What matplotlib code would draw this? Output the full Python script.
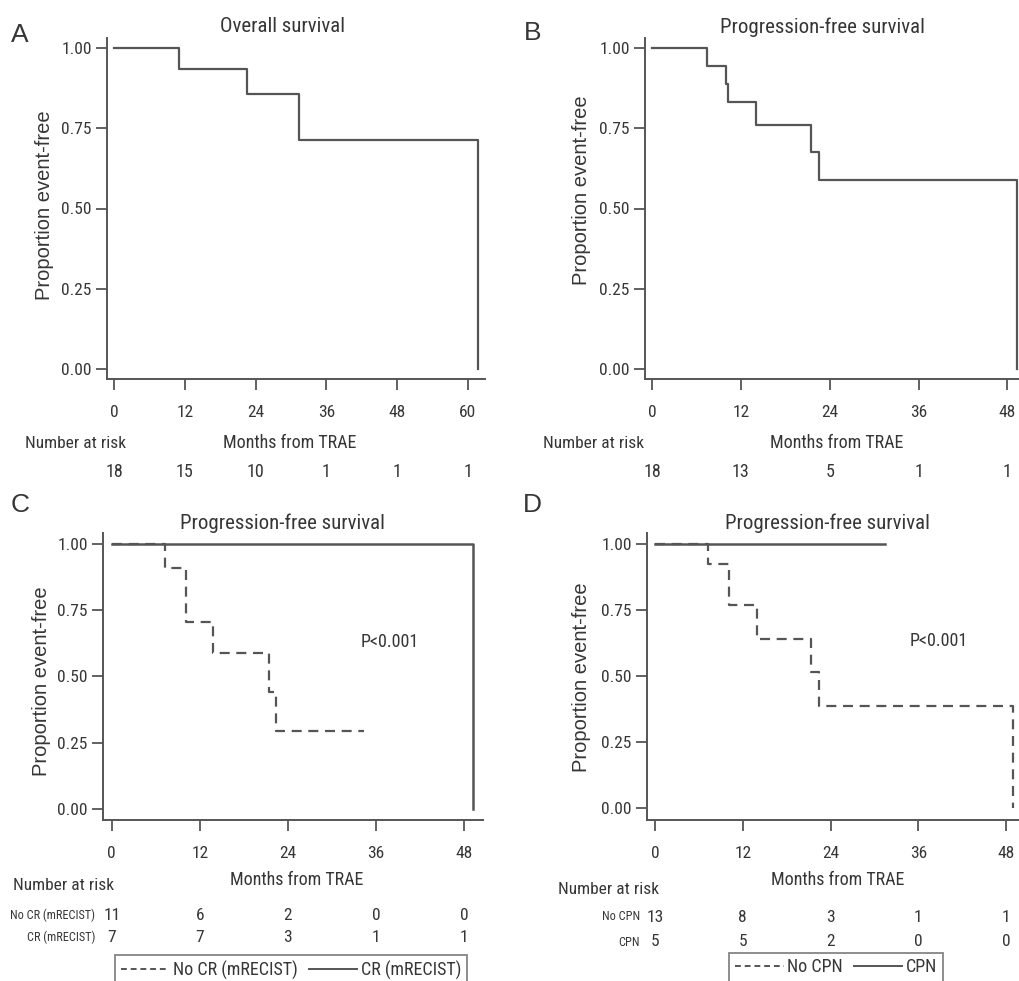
import matplotlib
matplotlib.use("Agg")
import matplotlib.pyplot as plt
import matplotlib.transforms as mtransforms
from matplotlib.lines import Line2D

# --- data ---
months_ticks_a = [0, 12, 24, 36, 48, 60]
months_ticks = [0, 12, 24, 36, 48]
surv_ticks = [0.0, 0.25, 0.5, 0.75, 1.0]

os_t = [0, 11.0, 22.5, 31.4, 61.7]
os_s = [1.0, 0.933, 0.857, 0.714, 0.0]
os_risk = [18, 15, 10, 1, 1, 1]

pfs_t = [0, 7.4, 10.0, 10.2, 14.0, 21.5, 22.5, 49.3]
pfs_s = [1.0, 0.944, 0.889, 0.833, 0.759, 0.675, 0.590, 0.0]
pfs_risk = [18, 13, 5, 1, 1]

nocr_t = [0, 7.2, 10.1, 13.8, 21.4, 22.4, 34.4]
nocr_s = [1.0, 0.909, 0.705, 0.588, 0.441, 0.294, 0.294]
cr_t = [0, 49.2]
cr_s = [1.0, 0.0]
nocr_risk = [11, 6, 2, 0, 0]
cr_risk = [7, 7, 3, 1, 1]

nocpn_t = [0, 7.3, 10.1, 13.9, 21.4, 22.4, 49.0]
nocpn_s = [1.0, 0.923, 0.769, 0.641, 0.513, 0.385, 0.0]
cpn_t = [0, 31.4]
cpn_s = [1.0, 1.0]
nocpn_risk = [13, 8, 3, 1, 1]
cpn_risk = [5, 5, 2, 0, 0]

W, H = 1020, 981
NARROW = ['Roboto Condensed', 'Liberation Sans', 'DejaVu Sans']
REG = ['Liberation Sans', 'DejaVu Sans']
TXT = '#363636'
LINE = '#555555'
DASH = (0, (4.5, 3))

plt.rcParams['font.family'] = NARROW
plt.rcParams['text.color'] = TXT

fig = plt.figure(figsize=(W / 100, H / 100), dpi=100)


def fx(px):
    return px / W


def fy(py):
    return 1 - py / H


def make_axes(left, top, right, bottom, xlim, ylim, xticks):
    ax = fig.add_axes([fx(left), fy(bottom), (right - left) / W, (bottom - top) / H])
    ax.set_xlim(*xlim)
    ax.set_ylim(*ylim)
    ax.set_xticks(xticks)
    ax.set_yticks(surv_ticks)
    ax.set_yticklabels(["%.2f" % v for v in surv_ticks])
    for s in ['top', 'right']:
        ax.spines[s].set_visible(False)
    for s in ['left', 'bottom']:
        ax.spines[s].set_color(LINE)
        ax.spines[s].set_linewidth(1.4)
    ax.tick_params(axis='x', direction='out', length=8, width=1.3, color=LINE,
                   labelsize=12.5, labelcolor=TXT, pad=11)
    ax.tick_params(axis='y', direction='out', length=8, width=1.3, color=LINE,
                   labelsize=12.5, labelcolor=TXT, pad=3)
    return ax


def ylabel(px, py):
    fig.text(fx(px), fy(py), "Proportion event-free", rotation=90, ha='center',
             va='center', fontsize=14.5, family=REG)


def risk_row(ax, ticks, values, py, size=12.5):
    tr = mtransforms.blended_transform_factory(ax.transData, fig.transFigure)
    for t, v in zip(ticks, values):
        ax.text(t, fy(py), str(v), transform=tr, ha='center', va='center',
                fontsize=size, clip_on=False)


def legend(labels, cx, top):
    handles = [Line2D([], [], color=LINE, lw=1.4, linestyle=(0, (3, 2))),
               Line2D([], [], color=LINE, lw=1.4)]
    leg = fig.legend(handles, labels, loc='upper center',
                     bbox_to_anchor=(fx(cx), fy(top)), ncol=2, fontsize=13,
                     frameon=True, fancybox=False, edgecolor='#666666', handlelength=2.7,
                     handletextpad=0.2, columnspacing=0.6, borderpad=0.3, borderaxespad=0)
    leg.get_frame().set_linewidth(1.3)
    return leg


# ---------- A ----------
axA = make_axes(107, 38, 485, 379, (-1.19, 62.9), (-0.031, 1.031), months_ticks_a)
axA.step(os_t, os_s, where='post', color=LINE, lw=1.6)
fig.text(fx(20), fy(35), "A", fontsize=19, family=REG, ha='center', va='center')
fig.text(fx(282), fy(27), "Overall survival", fontsize=15, ha='center', va='center')
ylabel(45, 205)
fig.text(fx(25), fy(443), "Number at risk", fontsize=12.5, ha='left', va='center')
fig.text(fx(290), fy(443), "Months from TRAE", fontsize=13, ha='center', va='center')
risk_row(axA, months_ticks_a, os_risk, 472, 13)

# ---------- B ----------
axB = make_axes(645, 38, 1020, 379, (-0.95, 49.7), (-0.031, 1.031), months_ticks)
axB.step(pfs_t, pfs_s, where='post', color=LINE, lw=1.6)
fig.text(fx(533), fy(33), "B", fontsize=19, family=REG, ha='center', va='center')
fig.text(fx(822), fy(27), "Progression-free survival", fontsize=15, ha='center', va='center')
ylabel(582, 190)
fig.text(fx(543), fy(443), "Number at risk", fontsize=12.5, ha='left', va='center')
fig.text(fx(837), fy(443), "Months from TRAE", fontsize=13, ha='center', va='center')
risk_row(axB, months_ticks, pfs_risk, 472, 13)

# ---------- C ----------
axC = make_axes(103, 533, 483, 820, (-1.2, 50.6), (-0.0415, 1.04), months_ticks)
axC.step(nocr_t, nocr_s, where='post', color=LINE, lw=1.6, linestyle=DASH)
axC.step(cr_t, cr_s, where='post', color=LINE, lw=1.8)
axC.text(37.9, 0.63, "P<0.001", fontsize=13, ha='center', va='center')
fig.text(fx(20), fy(505), "C", fontsize=19, family=REG, ha='center', va='center')
fig.text(fx(282), fy(523), "Progression-free survival", fontsize=15, ha='center', va='center')
ylabel(42, 681)
fig.text(fx(13), fy(885), "Number at risk", fontsize=12.5, ha='left', va='center')
fig.text(fx(297), fy(880), "Months from TRAE", fontsize=13, ha='center', va='center')
fig.text(fx(95), fy(915), "No CR (mRECIST)", fontsize=8.8, ha='right', va='center')
fig.text(fx(95), fy(937), "CR (mRECIST)", fontsize=8.8, ha='right', va='center')
risk_row(axC, months_ticks, nocr_risk, 915)
risk_row(axC, months_ticks, cr_risk, 937)
legend(["No CR (mRECIST)", "CR (mRECIST)"], 291, 955)

# ---------- D ----------
axD = make_axes(647, 533, 1020, 820, (-1.08, 49.9), (-0.045, 1.04), months_ticks)
axD.step(nocpn_t, nocpn_s, where='post', color=LINE, lw=1.6, linestyle=DASH)
axD.step(cpn_t, cpn_s, where='post', color=LINE, lw=1.8)
axD.text(38.8, 0.63, "P<0.001", fontsize=13, ha='center', va='center')
fig.text(fx(532), fy(505), "D", fontsize=19, family=REG, ha='center', va='center')
fig.text(fx(827), fy(523), "Progression-free survival", fontsize=15, ha='center', va='center')
ylabel(582, 677)
fig.text(fx(558), fy(890), "Number at risk", fontsize=12.5, ha='left', va='center')
fig.text(fx(838), fy(880), "Months from TRAE", fontsize=13, ha='center', va='center')
fig.text(fx(640), fy(917), "No CPN", fontsize=8.8, ha='right', va='center')
fig.text(fx(640), fy(942), "CPN", fontsize=8.8, ha='right', va='center')
risk_row(axD, months_ticks, nocpn_risk, 917)
risk_row(axD, months_ticks, cpn_risk, 942)
legend(["No CPN", "CPN"], 836, 953)

fig.savefig("out.png", dpi=100)
